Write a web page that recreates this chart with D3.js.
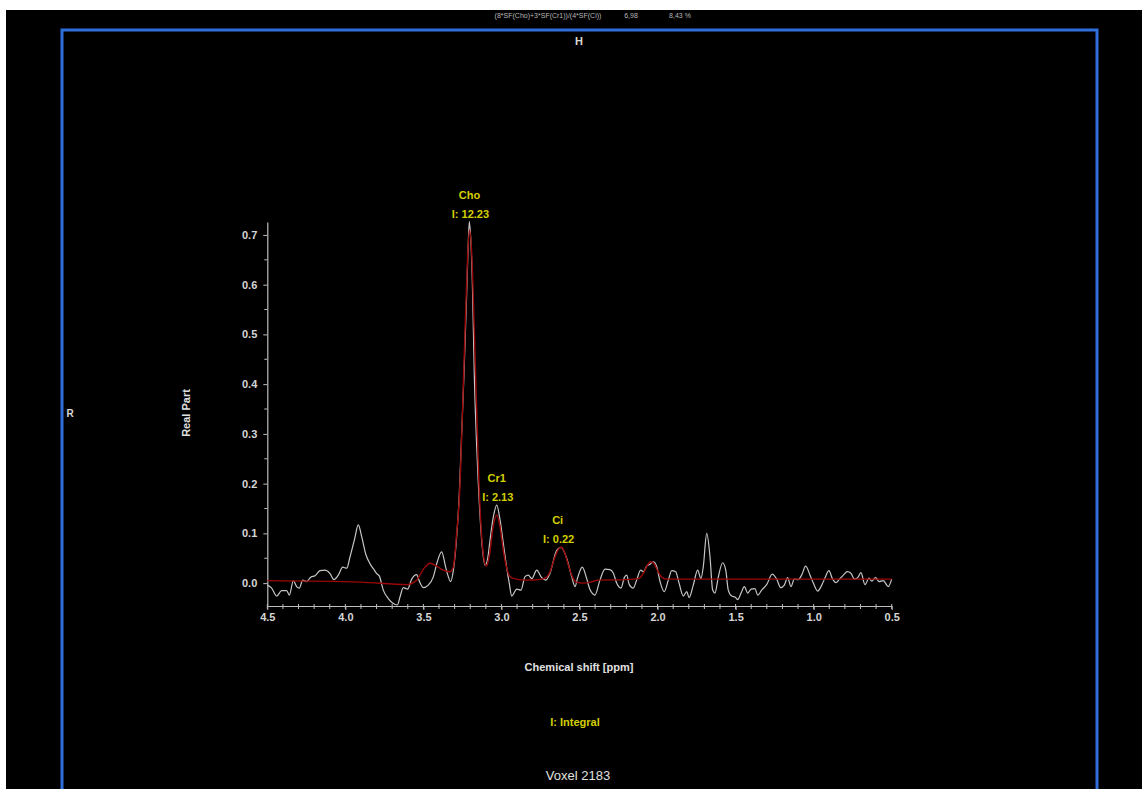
<!DOCTYPE html>
<html>
<head>
<meta charset="utf-8">
<script src="https://cdn.jsdelivr.net/npm/d3@7"></script>
<style>
  html, body { margin: 0; padding: 0; background: #ffffff; }
  svg { display: block; }
  text { font-family: "Liberation Sans", Arial, sans-serif; }
</style>
</head>
<body>
<svg id="chart" width="1142" height="789"></svg>
<script>
// ---------- DATA ----------
const whitePpm = [4.500,4.472,4.440,4.408,4.376,4.359,4.333,4.312,4.295,4.273,4.248,4.222,4.194,4.162,4.130,4.098,4.073,4.045,4.017,3.991,3.970,3.942,3.917,3.895,3.868,3.842,3.821,3.799,3.782,3.757,3.725,3.697,3.667,3.650,3.629,3.601,3.575,3.543,3.526,3.500,3.469,3.437,3.411,3.383,3.355,3.325,3.308,3.290,3.270,3.255,3.240,3.225,3.214,3.206,3.198,3.186,3.174,3.158,3.140,3.125,3.105,3.088,3.073,3.052,3.030,3.009,2.988,2.966,2.950,2.934,2.902,2.875,2.849,2.828,2.806,2.774,2.742,2.716,2.689,2.646,2.618,2.582,2.550,2.529,2.512,2.482,2.454,2.433,2.401,2.369,2.337,2.305,2.283,2.262,2.234,2.213,2.198,2.181,2.156,2.134,2.108,2.090,2.070,2.048,2.027,2.005,1.984,1.957,1.931,1.909,1.884,1.863,1.835,1.813,1.798,1.771,1.743,1.722,1.707,1.685,1.664,1.647,1.632,1.611,1.583,1.563,1.547,1.525,1.504,1.487,1.465,1.444,1.422,1.401,1.376,1.358,1.333,1.301,1.265,1.237,1.211,1.188,1.167,1.145,1.124,1.098,1.077,1.051,1.023,1.002,0.974,0.948,0.927,0.902,0.880,0.858,0.837,0.810,0.784,0.761,0.740,0.718,0.697,0.671,0.645,0.628,0.603,0.581,0.554,0.522,0.500];
const whiteVal = [-0.004,-0.010,-0.026,-0.015,-0.015,-0.024,0.005,-0.007,-0.010,0.006,0.003,0.012,0.015,0.025,0.026,0.019,0.007,0.016,0.032,0.030,0.053,0.087,0.117,0.093,0.057,0.039,0.029,0.019,0.014,-0.014,-0.031,-0.040,-0.044,-0.028,-0.009,-0.012,0.008,0.017,0.004,-0.009,-0.004,0.012,0.043,0.063,0.029,0.003,0.026,0.080,0.180,0.300,0.420,0.560,0.670,0.727,0.700,0.600,0.420,0.270,0.150,0.080,0.036,0.050,0.087,0.133,0.157,0.127,0.080,0.030,0.000,-0.026,-0.012,-0.014,0.013,0.016,0.009,0.026,0.011,0.006,0.020,0.066,0.072,0.050,0.013,-0.007,0.011,0.032,0.009,-0.013,-0.024,0.006,0.028,0.027,0.020,0.000,-0.010,0.011,0.016,-0.003,-0.010,0.006,0.026,0.023,0.034,0.038,0.043,0.033,0.003,-0.017,0.006,0.025,0.023,0.001,-0.026,-0.017,-0.029,-0.004,0.026,0.009,0.033,0.100,0.053,-0.014,-0.020,0.012,0.041,0.026,-0.014,-0.026,-0.028,-0.033,-0.020,-0.007,-0.020,-0.012,-0.011,-0.024,-0.014,-0.003,0.018,0.008,-0.009,-0.004,0.011,-0.007,0.008,0.007,0.016,0.034,0.016,0.000,-0.016,-0.004,0.011,0.025,0.009,0.001,0.007,0.016,0.023,0.020,0.008,0.011,0.021,-0.003,0.010,0.004,0.011,0.003,0.005,-0.007,0.008];

const fitPpm = [4.500,3.900,3.607,3.543,3.500,3.458,3.415,3.373,3.330,3.308,3.287,3.270,3.250,3.235,3.220,3.205,3.190,3.175,3.160,3.145,3.130,3.115,3.097,3.075,3.055,3.030,3.010,2.990,2.970,2.950,2.930,2.850,2.760,2.720,2.690,2.660,2.630,2.615,2.600,2.570,2.545,2.520,2.480,2.430,2.380,2.200,2.120,2.090,2.065,2.045,2.025,2.000,1.970,1.940,0.500];
const fitVal = [0.005,0.002,-0.003,0.006,0.028,0.040,0.034,0.026,0.023,0.033,0.100,0.170,0.340,0.490,0.630,0.710,0.660,0.520,0.360,0.210,0.110,0.055,0.034,0.060,0.110,0.137,0.115,0.070,0.035,0.015,0.010,0.006,0.007,0.010,0.022,0.050,0.070,0.072,0.065,0.035,0.012,0.002,0.000,0.002,0.006,0.007,0.009,0.020,0.036,0.043,0.040,0.025,0.011,0.008,0.008];

const peakNames = ["Cho", "Cr1", "Ci"];
const peakPpm = [3.205, 3.030, 2.640];
const peakTop = [0.727, 0.157, 0.072];
const peakIntegrals = ["12.23", "2.13", "0.22"];

const xTickMajor = [4.5, 4.0, 3.5, 3.0, 2.5, 2.0, 1.5, 1.0, 0.5];
const yTickMajor = [0.0, 0.1, 0.2, 0.3, 0.4, 0.5, 0.6, 0.7];

const formulaText = "(8*SF(Cho)+3*SF(Cr1))/(4*SF(Ci))";
const ratioValue = "6,98";
const ratioPercent = "8,43 %";
const voxelLabel = "Voxel 2183";

// ---------- DRAW ----------
const svg = d3.select("#chart");
const W = 1142, H = 789;

svg.append("rect").attr("x", 6).attr("y", 10).attr("width", W - 6).attr("height", H - 10).attr("fill", "#000");

svg.append("rect").attr("x", 62).attr("y", 30).attr("width", 1035).attr("height", 800)
  .attr("fill", "none").attr("stroke", "#2f6fdc").attr("stroke-width", 3);

const topG = svg.append("g").attr("fill", "#b8b8b8").attr("font-size", 7);
topG.append("text").attr("x", 548).attr("y", 18).attr("text-anchor", "middle").text(formulaText);
topG.append("text").attr("x", 631).attr("y", 18).attr("text-anchor", "middle").text(ratioValue);
topG.append("text").attr("x", 680).attr("y", 18).attr("text-anchor", "middle").text(ratioPercent);

svg.append("text").attr("x", 579).attr("y", 45).attr("text-anchor", "middle")
  .attr("fill", "#d8d8d8").attr("font-size", 11).attr("font-weight", "bold").text("H");
svg.append("text").attr("x", 70).attr("y", 417).attr("text-anchor", "middle")
  .attr("fill", "#d8d8d8").attr("font-size", 10).attr("font-weight", "bold").text("R");

const x = d3.scaleLinear().domain([4.5, 0.5]).range([267.3, 891.7]);
const y = d3.scaleLinear().domain([-0.046, 0.726]).range([606, 222]);

const axisColor = "#bdbdbd";

const yAxis = d3.axisLeft(y).tickValues(yTickMajor).tickFormat(d3.format(".1f")).tickSize(4).tickSizeOuter(0).tickPadding(6);
const gy = svg.append("g").attr("transform", "translate(267.3,0)").call(yAxis);
gy.select(".domain").attr("stroke", axisColor).attr("stroke-width", 1.2);
gy.selectAll(".tick line").attr("stroke", axisColor);
gy.selectAll(".tick text").attr("fill", "#d6d6d6").attr("font-size", 11).attr("font-weight", "bold")
  .attr("font-family", "'Liberation Sans', Arial, sans-serif");
const yMinor = d3.range(0.05, 0.7, 0.1);
gy.selectAll(".minor").data(yMinor).enter().append("line")
  .attr("x1", -3).attr("x2", 0).attr("y1", d => y(d)).attr("y2", d => y(d)).attr("stroke", axisColor);

const xAxis = d3.axisBottom(x).tickValues(xTickMajor).tickFormat(d3.format(".1f")).tickSize(4).tickSizeOuter(0).tickPadding(3);
const gx = svg.append("g").attr("transform", "translate(0,606)").call(xAxis);
gx.select(".domain").attr("stroke", axisColor).attr("stroke-width", 1.2);
gx.selectAll(".tick line").attr("stroke", axisColor);
gx.selectAll(".tick text").attr("fill", "#d6d6d6").attr("font-size", 11).attr("font-weight", "bold")
  .attr("font-family", "'Liberation Sans', Arial, sans-serif");
const xMinor = d3.range(0, 41).map(i => 0.5 + i * 0.1);
gx.selectAll(".minor").data(xMinor).enter().append("line")
  .attr("x1", d => x(d)).attr("x2", d => x(d)).attr("y1", -2).attr("y2", 3).attr("stroke", axisColor);

svg.append("text").attr("transform", "translate(190,413) rotate(-90)").attr("text-anchor", "middle")
  .attr("fill", "#e0e0e0").attr("font-size", 11).attr("font-weight", "bold").text("Real Part");
svg.append("text").attr("x", 579).attr("y", 671).attr("text-anchor", "middle")
  .attr("fill", "#e0e0e0").attr("font-size", 11).attr("font-weight", "bold").text("Chemical shift [ppm]");

const whiteData = whitePpm.map((p, i) => [p, whiteVal[i]]);
const fitData = fitPpm.map((p, i) => [p, fitVal[i]]);
const line = d3.line().x(d => x(d[0])).y(d => y(d[1])).curve(d3.curveMonotoneX);

svg.append("path").datum(whiteData).attr("d", line)
  .attr("fill", "none").attr("stroke", "#c6c6c6").attr("stroke-width", 1.2).attr("stroke-linejoin", "round");
svg.append("path").datum(fitData).attr("d", line)
  .attr("fill", "none").attr("stroke", "#9c0808").attr("stroke-width", 1.4).attr("stroke-linejoin", "round");

const yellow = "#d4d000";
const lab = svg.append("g").attr("fill", yellow).attr("font-size", 11).attr("font-weight", "bold").attr("text-anchor", "middle");
peakNames.forEach((n, i) => {
  const cx = x(peakPpm[i]);
  const ty = y(peakTop[i]);
  lab.append("text").attr("x", cx).attr("y", ty - 23).text(n);
  lab.append("text").attr("x", cx + 1).attr("y", ty - 4).text("I: " + peakIntegrals[i]);
});

svg.append("text").attr("x", 575).attr("y", 726).attr("text-anchor", "middle")
  .attr("fill", yellow).attr("font-size", 11).attr("font-weight", "bold").text("I: Integral");
svg.append("text").attr("x", 578).attr("y", 780).attr("text-anchor", "middle")
  .attr("fill", "#e0e0e0").attr("font-size", 13).text(voxelLabel);
</script>
</body>
</html>
